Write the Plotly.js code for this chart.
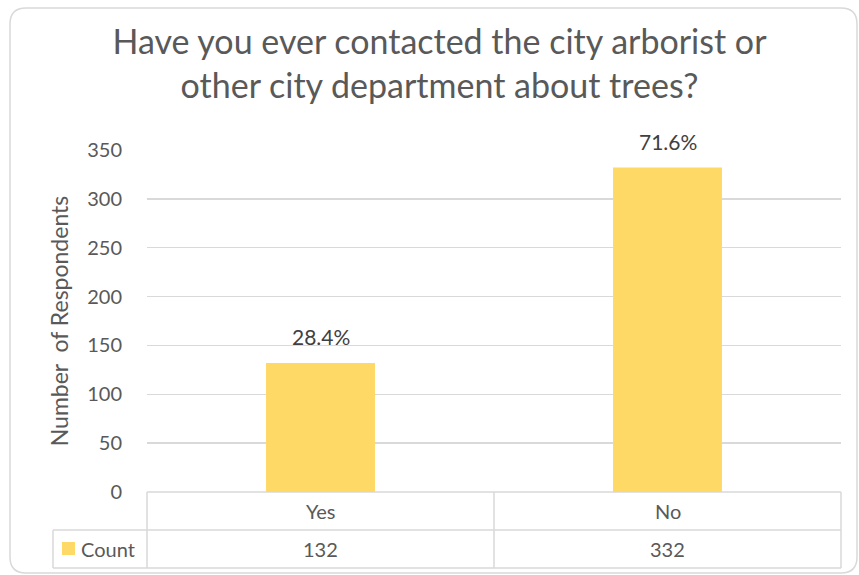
<!DOCTYPE html>
<html>
<head>
<meta charset="utf-8">
<script src="https://cdn.plot.ly/plotly-3.0.1.min.js"></script>
<style>
  html, body { margin: 0; padding: 0; background: #ffffff; }
  #chart { width: 859px; height: 575px; }
</style>
</head>
<body>
<div id="chart"></div>
<script>
// ---- Data ----
const categories = ["Yes", "No"];
const counts = [132, 332];
const seriesName = "Count";
const chartTitle = "Have you ever contacted the city arborist or<br>other city department about trees?";
const yAxisTitle = "Number  of Respondents";
const yTickVals = [0, 50, 100, 150, 200, 250, 300, 350];

// ---- Derived labels ----
const total = counts.reduce((a, b) => a + b, 0);
const pctLabels = counts.map(v => (100 * v / total).toFixed(1) + "%");

// ---- Layout geometry (pixels) ----
const W = 859, H = 575;
const M = { l: 147, r: 18, t: 150, b: 83 };
const PW = W - M.l - M.r, PH = H - M.t - M.b;
const X = px => (px - M.l) / PW;          // pixel x -> paper x
const Y = py => (H - M.b - py) / PH;      // pixel y -> paper y

const txt = "#595959";
const lineCol = "#d9d9d9";
const barCol = "#FFD966";
const font = "Lato, 'Open Sans', sans-serif";

function line(x0, y0, x1, y1) {
  return { type: "line", xref: "paper", yref: "paper",
           x0: X(x0), y0: Y(y0), x1: X(x1), y1: Y(y1),
           line: { color: lineCol, width: 1.5 }, layer: "below" };
}

// rounded outer frame
const fx0 = 10, fy0 = 8, fx1 = 857, fy1 = 573, rr = 16;
function P(x, y) { return X(x).toFixed(5) + "," + Y(y).toFixed(5); }
const framePath =
  "M" + P(fx0 + rr, fy0) + " L" + P(fx1 - rr, fy0) +
  " Q" + P(fx1, fy0) + " " + P(fx1, fy0 + rr) +
  " L" + P(fx1, fy1 - rr) +
  " Q" + P(fx1, fy1) + " " + P(fx1 - rr, fy1) +
  " L" + P(fx0 + rr, fy1) +
  " Q" + P(fx0, fy1) + " " + P(fx0, fy1 - rr) +
  " L" + P(fx0, fy0 + rr) +
  " Q" + P(fx0, fy0) + " " + P(fx0 + rr, fy0) + " Z";

const shapes = [
  { type: "path", xref: "paper", yref: "paper", path: framePath,
    line: { color: lineCol, width: 1.5 }, layer: "below" },
  // data table grid
  line(147, 492, 841, 492),
  line(53, 530, 841, 530),
  line(53, 568, 841, 568),
  line(53, 530, 53, 568),
  line(147, 492, 147, 568),
  line(494, 492, 494, 568),
  line(841, 492, 841, 568),
  // legend key
  { type: "rect", xref: "paper", yref: "paper",
    x0: X(62), x1: X(75), y0: Y(555), y1: Y(542),
    fillcolor: barCol, line: { width: 0 } }
];

const tableFont = { family: font, size: 20, color: txt };
const annotations = [];
categories.forEach((c, i) => {
  // data labels above bars
  annotations.push({ x: c, y: counts[i], xref: "x", yref: "y", text: pctLabels[i],
    showarrow: false, yanchor: "bottom", yshift: 12,
    font: { family: font, size: 21, color: "#404040" } });
  // table header
  annotations.push({ x: c, y: Y(511), xref: "x", yref: "paper", text: c,
    showarrow: false, yanchor: "middle", font: tableFont });
  // table values
  annotations.push({ x: c, y: Y(549), xref: "x", yref: "paper", text: String(counts[i]),
    showarrow: false, yanchor: "middle", font: tableFont });
});
annotations.push({ x: X(79), y: Y(549), xref: "paper", yref: "paper", text: seriesName,
  showarrow: false, xanchor: "left", yanchor: "middle", font: tableFont });

const data = [{
  type: "bar", name: seriesName, x: categories, y: counts,
  marker: { color: barCol }, hoverinfo: "x+y"
}];

const layout = {
  width: W, height: H,
  margin: M,
  paper_bgcolor: "#ffffff", plot_bgcolor: "#ffffff",
  showlegend: false,
  bargap: 0.686,
  title: {
    text: chartTitle, x: 439.5 / W, xanchor: "center",
    y: 1 - 54 / H, yanchor: "top", yref: "container",
    font: { family: font, size: 34, color: txt }
  },
  xaxis: {
    showticklabels: false, showgrid: false, zeroline: false, showline: false,
    ticks: ""
  },
  yaxis: {
    range: [0, 350], tickvals: yTickVals, showgrid: true, gridcolor: lineCol, gridwidth: 1.5,
    zeroline: false, showline: false, ticks: "", ticklen: 0,
    ticklabelstandoff: 24,
    tickfont: { family: font, size: 20, color: txt },
    title: { text: yAxisTitle, standoff: 12, font: { family: font, size: 23, color: txt } }
  },
  shapes: shapes,
  annotations: annotations,
  font: { family: font, color: txt }
};

Plotly.newPlot("chart", data, layout, { displayModeBar: false, staticPlot: true });
</script>
</body>
</html>
